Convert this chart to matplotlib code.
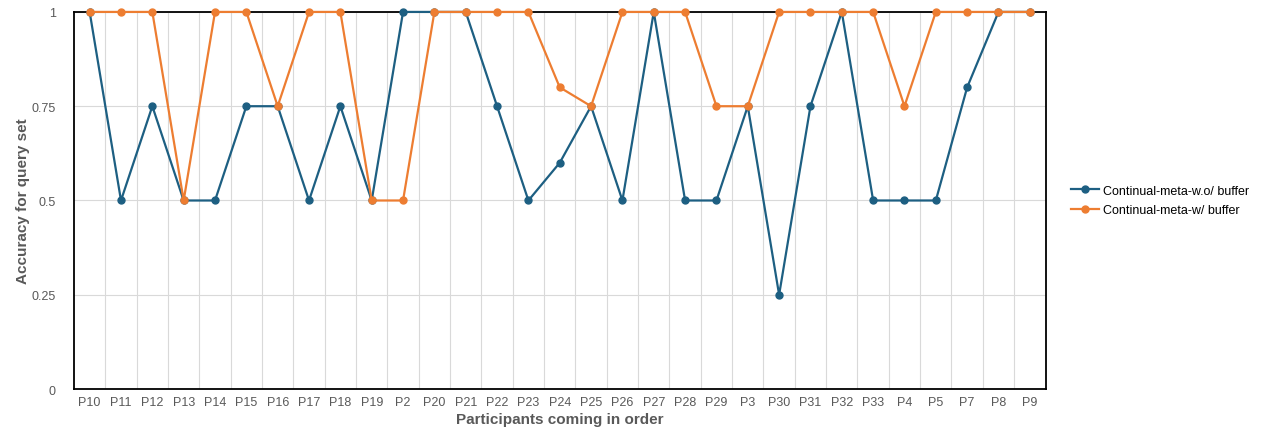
import matplotlib
matplotlib.use("Agg")
import matplotlib.pyplot as plt
import numpy as np

participants = ["P10", "P11", "P12", "P13", "P14", "P15", "P16", "P17", "P18", "P19",
                "P2", "P20", "P21", "P22", "P23", "P24", "P25", "P26", "P27", "P28",
                "P29", "P3", "P30", "P31", "P32", "P33", "P4", "P5", "P7", "P8", "P9"]
without_buffer = [1, 0.5, 0.75, 0.5, 0.5, 0.75, 0.75, 0.5, 0.75, 0.5,
                  1, 1, 1, 0.75, 0.5, 0.6, 0.75, 0.5, 1, 0.5,
                  0.5, 0.75, 0.25, 0.75, 1, 0.5, 0.5, 0.5, 0.8, 1, 1]
with_buffer = [1, 1, 1, 0.5, 1, 1, 0.75, 1, 1, 0.5,
               0.5, 1, 1, 1, 1, 0.8, 0.75, 1, 1, 1,
               0.75, 0.75, 1, 1, 1, 1, 0.75, 1, 1, 1, 1]
y_ticks = [0, 0.25, 0.5, 0.75, 1]
y_tick_labels = ["0", "0.25", "0.5", "0.75", "1"]

plt.rcParams['font.family'] = ['Liberation Sans', 'DejaVu Sans']

fig = plt.figure(figsize=(12.8, 4.31), dpi=100)
ax = fig.add_axes([0.0578, 0.095, 0.759, 0.875])

x = np.arange(len(participants))
blue = "#1d5f82"
orange = "#ed7d31"
ax.plot(x, without_buffer, color=blue, lw=1.6, marker='o', ms=5,
        label="Continual-meta-w.o/ buffer", zorder=3, clip_on=False)
ax.plot(x, with_buffer, color=orange, lw=1.6, marker='o', ms=5,
        label="Continual-meta-w/ buffer", zorder=4, clip_on=False)

ax.set_xlim(-0.5, len(participants) - 0.5)
ax.set_ylim(0, 1)
ax.set_xticks(x)
ax.set_xticklabels(participants)
ax.set_xticks(np.arange(0.5, len(participants) - 1, 1), minor=True)
ax.set_yticks(y_ticks)
ax.set_yticklabels(y_tick_labels)
ax.tick_params(axis='both', which='both', length=0, labelsize=9, labelcolor="#595959")
ax.tick_params(axis='x', pad=5)
ax.tick_params(axis='y', pad=13)
ax.grid(axis='x', which='minor', color="#d9d9d9", lw=0.8)
ax.grid(axis='y', which='major', color="#d9d9d9", lw=0.8)
ax.set_axisbelow(True)
for s in ax.spines.values():
    s.set_color("black")
    s.set_linewidth(1.3)

ax.set_xlabel("Participants coming in order", fontsize=11, fontweight='bold',
              color="#595959", labelpad=3)
ax.set_ylabel("Accuracy for query set", fontsize=11, fontweight='bold',
              color="#595959", labelpad=14)
ax.yaxis.set_label_coords(-0.045, 0.5)

ax.legend(loc='center left', bbox_to_anchor=(1.015, 0.5), frameon=False,
          fontsize=9, handlelength=2.2, handletextpad=0.3, labelspacing=0.6)

fig.savefig("out.png", dpi=100)
